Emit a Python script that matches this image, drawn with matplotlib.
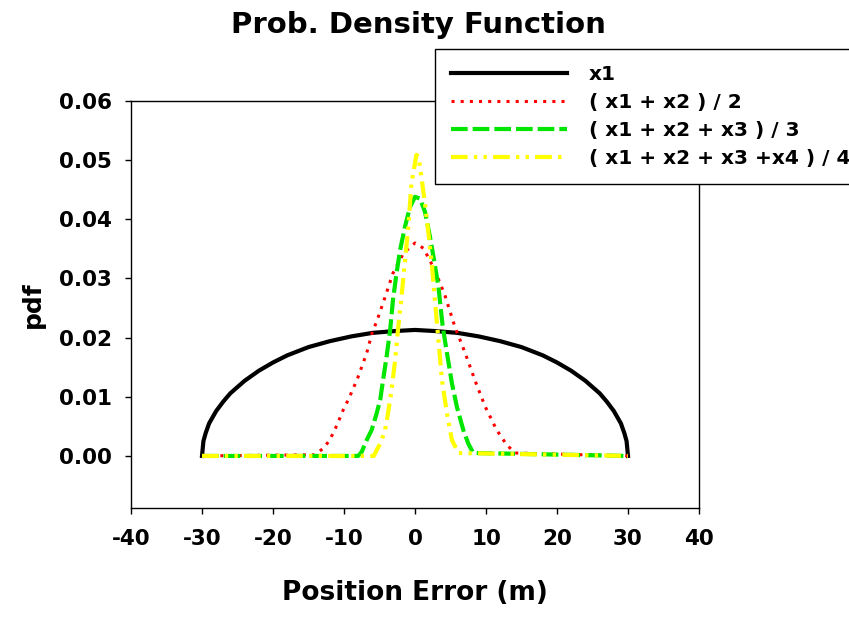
import matplotlib
matplotlib.use("Agg")
import matplotlib.pyplot as plt

plt.rcParams['font.family'] = ['DejaVu Sans']
plt.rcParams['font.weight'] = 'bold'
plt.rcParams['axes.unicode_minus'] = False

# x1 (single measurement)
x_1 = [-30, -29.8, -29.5, -29, -28, -27, -26, -24, -22, -20, -18, -15, -12, -9, -6, -3, 0,
       3, 6, 9, 12, 15, 18, 20, 22, 24, 26, 27, 28, 29, 29.5, 29.8, 30]
y_1 = [0, 0.0025, 0.0038, 0.0055, 0.0076, 0.0092, 0.0106, 0.0127, 0.0144, 0.0158, 0.0170,
       0.0184, 0.0194, 0.0202, 0.0208, 0.0211, 0.0213,
       0.0211, 0.0208, 0.0202, 0.0194, 0.0184, 0.0170, 0.0158, 0.0144, 0.0127, 0.0106,
       0.0092, 0.0076, 0.0055, 0.0038, 0.0025, 0]

# (x1 + x2) / 2
x_2 = [-30, -14.1, -12.9, -12.0, -11.0, -10.1, -9.4, -8.7, -8.0, -6.8, -6.0, -5.4, -4.2, -3.1,
       -1.6, 0, 1.2, 2.8, 4.2, 5.6, 7.0, 8.5, 9.9, 11.5, 12.9, 14.1, 30]
y_2 = [0, 0.0002, 0.0013, 0.0027, 0.0052, 0.0078, 0.0095, 0.0114, 0.0134, 0.0174, 0.0210,
       0.0227, 0.0269, 0.0309, 0.0343, 0.0360, 0.0351, 0.0314, 0.0272, 0.0219, 0.0176,
       0.0126, 0.0083, 0.0044, 0.0019, 0.0005, 0]

# (x1 + x2 + x3) / 3
x_3 = [-30, -8.0, -7.5, -6.8, -6.1, -5.4, -4.9, -4.5, -4.0, -3.5, -3.1, -2.6, -2.1, -1.4, -0.7,
       0, 0.7, 1.4, 2.1, 2.6, 3.3, 3.9, 4.5, 5.2, 5.9, 6.8, 7.5, 8.2, 30]
y_3 = [0, 0, 0.0007, 0.0027, 0.0044, 0.0072, 0.0095, 0.0128, 0.0168, 0.0213, 0.0264, 0.0309,
       0.0348, 0.0388, 0.0421, 0.0438, 0.0435, 0.0413, 0.0371, 0.0337, 0.0286, 0.0219,
       0.0174, 0.0123, 0.0083, 0.0044, 0.0021, 0.0005, 0]

# (x1 + x2 + x3 + x4) / 4
x_4 = [-30, -5.8, -5.6, -4.9, -4.2, -3.8, -3.3, -2.8, -2.4, -1.9, -1.4, -0.9, -0.5, 0.2, 0.5,
       0.9, 1.4, 1.9, 2.4, 2.8, 3.3, 3.8, 4.5, 5.2, 6.1, 30]
y_4 = [0, 0, 0.0005, 0.0021, 0.0044, 0.0072, 0.0112, 0.0162, 0.0213, 0.0269, 0.0331, 0.0393,
       0.0461, 0.0509, 0.0505, 0.0472, 0.0427, 0.0376, 0.0320, 0.0264, 0.0196, 0.0128,
       0.0072, 0.0027, 0.0005, 0]

labels = ["x1", "( x1 + x2 ) / 2", "( x1 + x2 + x3 ) / 3", "( x1 + x2 + x3 +x4 ) / 4"]

fig = plt.figure(figsize=(8.49, 6.17), dpi=100)
ax = fig.add_axes([131 / 849, 1 - 508 / 617, 568 / 849, 407 / 617])

l1, = ax.plot(x_1, y_1, color="black", lw=3)
l2, = ax.plot(x_2, y_2, color="red", lw=2.2, linestyle=(0, (1, 2)))
l3, = ax.plot(x_3, y_3, color="#00e600", lw=3, linestyle=(0, (4, 1.2)))
l4, = ax.plot(x_4, y_4, color="yellow", lw=3, linestyle=(0, (4, 1.5, 0.8, 1.5, 0.8, 1.5)))

ax.set_xlim(-40, 40)
ax.set_ylim(-0.0088, 0.06)
ax.set_xticks(range(-40, 41, 10))
ax.set_yticks([0, 0.01, 0.02, 0.03, 0.04, 0.05, 0.06])
ax.set_yticklabels(["0.00", "0.01", "0.02", "0.03", "0.04", "0.05", "0.06"])
ax.tick_params(direction="out", length=4, width=1, labelsize=15.5)
ax.tick_params(axis="y", pad=9.5)
ax.tick_params(axis="x", pad=11)
for s in ax.spines.values():
    s.set_linewidth(1)

ax.set_xlabel("Position Error (m)", fontsize=19, fontweight="bold")
ax.xaxis.set_label_coords(0.5, -0.177)
ax.set_ylabel("pdf", fontsize=18, fontweight="bold")
ax.yaxis.set_label_coords(-0.151, 0.5)
fig.text(418 / 849, 1 - 33 / 617, "Prob. Density Function", fontsize=21, fontweight="bold",
         ha="center", va="baseline")

leg = fig.legend([l1, l2, l3, l4], labels, loc="upper left",
                 bbox_to_anchor=(435 / 849, 1 - 49 / 617), borderaxespad=0,
                 fontsize=14.5, frameon=True, fancybox=False, edgecolor="black",
                 framealpha=1, handlelength=5.75, handletextpad=1.1,
                 labelspacing=0.45, borderpad=0.8)
leg.get_frame().set_linewidth(1)

fig.savefig("out.png", dpi=100)
